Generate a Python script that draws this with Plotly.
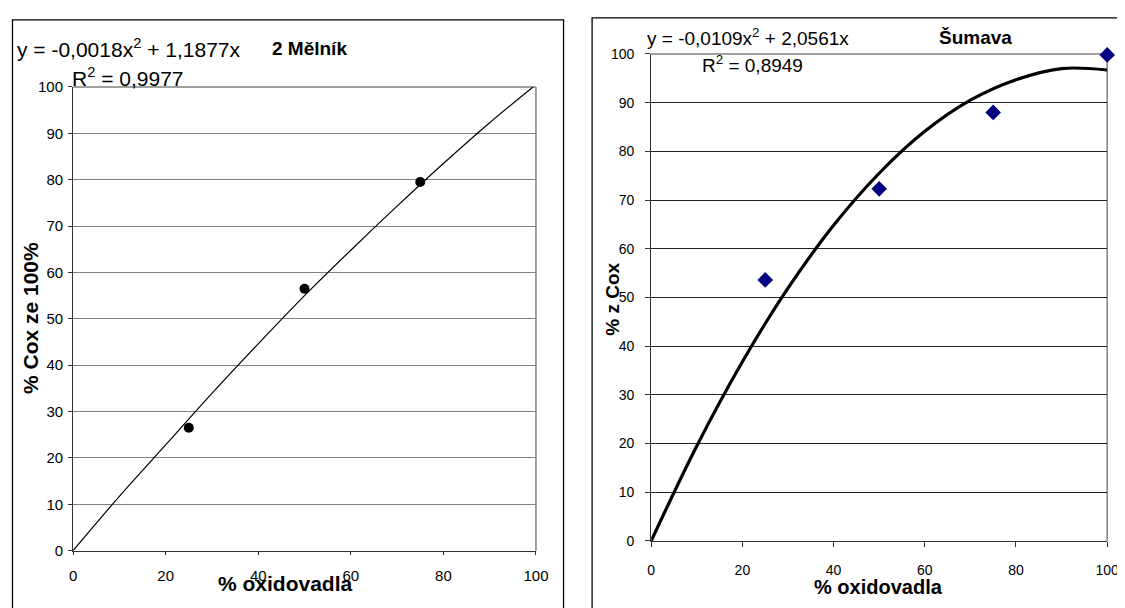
import plotly.graph_objects as go

# ---- data ----
mel_x = [25, 50, 75, 100]
mel_y = [26.5, 56.5, 79.5, 100.3]
mel_trend_x = [0, 10, 20, 30, 40, 50, 60, 70, 80, 90, 100]
mel_trend_y = [0, 11.7, 22.8, 33.9, 44.6, 55.0, 64.8, 74.3, 83.5, 92.3, 100.5]

sum_x = [25, 50, 75, 100]
sum_y = [53.6, 72.3, 88.0, 99.8]
sum_trend_x = [0, 10, 20, 30, 40, 50, 60, 70, 80, 90, 100]
sum_trend_y = [0, 19.5, 36.8, 51.9, 64.8, 75.5, 84.1, 90.5, 94.7, 97.0, 96.7]

x_ticks = [0, 20, 40, 60, 80, 100]
y_ticks = [0, 10, 20, 30, 40, 50, 60, 70, 80, 90, 100]

W, H = 1125, 608
OX, OY = 8, 8  # default page body margin
FONT = "Liberation Sans, Arial, sans-serif"


def px(x):
    return (x - OX) / W


def py(y):
    return 1 - (y - OY) / H


fig = go.Figure()

fig.add_trace(go.Scatter(x=mel_trend_x, y=mel_trend_y, mode="lines", line=dict(color="black", width=1.2, shape="spline"),
                         xaxis="x", yaxis="y", showlegend=False, cliponaxis=False, hoverinfo="skip"))
fig.add_trace(go.Scatter(x=mel_x, y=mel_y, mode="markers", marker=dict(color="black", size=10, symbol="circle"),
                         xaxis="x", yaxis="y", showlegend=False, cliponaxis=False))
fig.add_trace(go.Scatter(x=sum_trend_x, y=sum_trend_y, mode="lines", line=dict(color="black", width=3.2, shape="spline"),
                         xaxis="x2", yaxis="y2", showlegend=False, cliponaxis=False, hoverinfo="skip"))
fig.add_trace(go.Scatter(x=sum_x, y=sum_y, mode="markers", marker=dict(color="#000080", size=12, symbol="diamond"),
                         xaxis="x2", yaxis="y2", showlegend=False, cliponaxis=False))

common_x = dict(range=[0, 100], tickvals=x_ticks, showgrid=False, zeroline=False, showline=True,
                linecolor="#333333", linewidth=1, ticks="outside", tickcolor="#333333")
common_y = dict(range=[0, 100], tickvals=y_ticks, showgrid=True, zeroline=False, showline=True,
                linecolor="#333333", linewidth=1, ticks="outside", tickcolor="#333333")

fig.update_layout(
    width=W, height=H,
    margin=dict(l=0, r=0, t=0, b=0),
    paper_bgcolor="white", plot_bgcolor="white",
    font=dict(family=FONT, color="black"),
    xaxis=dict(domain=[px(70), px(540)], anchor="y", ticklen=3, ticklabelstandoff=8,
               tickfont=dict(size=15, family=FONT), **common_x),
    yaxis=dict(domain=[py(557), py(80)], anchor="x", ticklen=4, ticklabelstandoff=2,
               gridcolor="#808080", gridwidth=1, tickfont=dict(size=15, family=FONT), **common_y),
    xaxis2=dict(domain=[px(657), px(1120)], anchor="y2", ticklen=5, ticklabelstandoff=11,
                tickfont=dict(size=14, family=FONT), **common_x),
    yaxis2=dict(domain=[py(547), py(46)], anchor="x2", ticklen=5, ticklabelstandoff=8,
                gridcolor="#222222", gridwidth=1, tickfont=dict(size=14, family=FONT), **common_y),
)

shapes = [
    # outer chart frames
    dict(type="rect", xref="paper", yref="paper", x0=px(8.5), x1=px(568), y0=py(640), y1=py(11),
         line=dict(color="black", width=1.3), fillcolor="rgba(0,0,0,0)", layer="below"),
    dict(type="rect", xref="paper", yref="paper", x0=px(597), x1=px(1160), y0=py(640), y1=py(9),
         line=dict(color="black", width=1.3), fillcolor="rgba(0,0,0,0)", layer="below"),
]
for xr, yr in (("x", "y"), ("x2", "y2")):
    shapes.append(dict(type="line", xref=f"{xr} domain", yref=f"{yr} domain", x0=0, x1=1, y0=1, y1=1,
                       line=dict(color="#808080", width=1.5), layer="below"))
    shapes.append(dict(type="line", xref=f"{xr} domain", yref=f"{yr} domain", x0=1, x1=1, y0=0, y1=1,
                       line=dict(color="#808080", width=1.5), layer="below"))
fig.update_layout(shapes=shapes)

ann = []


def add_text(text, x, y, size, xanchor="left", bold=False, angle=0):
    t = f"<b>{text}</b>" if bold else text
    ann.append(dict(text=t, xref="paper", yref="paper", x=px(x), y=py(y), xanchor=xanchor, yanchor="middle",
                    showarrow=False, textangle=angle, font=dict(size=size, family=FONT, color="black")))


add_text("y = -0,0018x<sup>2</sup> + 1,1877x", 11, 40, 21)
add_text("R<sup>2</sup> = 0,9977", 67, 70, 21)
add_text("2 Mělník", 270, 40, 19, bold=True)
add_text("% oxidovadla", 286, 591, 21, xanchor="center", bold=True)
add_text("% Cox ze 100%", 27, 318, 21, xanchor="center", bold=True, angle=-90)

add_text("y = -0,0109x<sup>2</sup> + 2,0561x", 651, 29, 19)
add_text("R<sup>2</sup> = 0,8949", 707, 56, 19)
add_text("Šumava", 986, 29, 19, xanchor="center", bold=True)
add_text("% oxidovadla", 888, 594, 20, xanchor="center", bold=True)
add_text("% z Cox", 618, 298, 19, xanchor="center", bold=True, angle=-90)

fig.update_layout(annotations=ann)

fig.write_html("out.html", config={"displayModeBar": False})
